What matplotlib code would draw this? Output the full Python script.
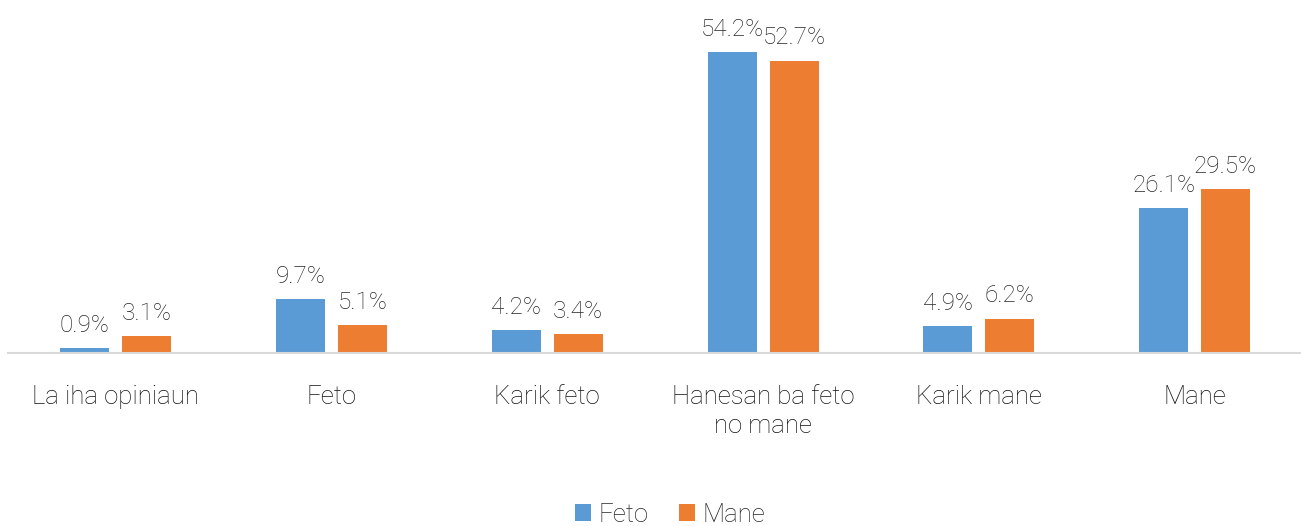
import numpy as np
import matplotlib.pyplot as plt

categories = ["La iha opiniaun", "Feto", "Karik feto", "Hanesan ba feto\nno mane",
              "Karik mane", "Mane"]
feto = [0.9, 9.7, 4.2, 54.2, 4.9, 26.1]
mane = [3.1, 5.1, 3.4, 52.7, 6.2, 29.5]

blue = "#5B9BD5"
orange = "#ED7D31"

plt.rcParams['font.family'] = ['Roboto', 'DejaVu Sans']
plt.rcParams['font.weight'] = 'light'

fig = plt.figure(figsize=(13.01, 5.26), dpi=100)
ax = fig.add_axes([7.6 / 1301, 173 / 526, 1295 / 1301, 333 / 526])

x = np.arange(len(categories))
w = 0.227
off = 0.1436
b1 = ax.bar(x - off, feto, w, color=blue, label="Feto")
b2 = ax.bar(x + off, mane, w, color=orange, label="Mane")

for bars, vals in ((b1, feto), (b2, mane)):
    for rect, v in zip(bars, vals):
        ax.text(rect.get_x() + rect.get_width() / 2, v + 2.0, f"{v:.1f}%",
                ha="center", va="bottom", fontsize=17.5, color="#262626")

ax.set_xlim(-0.5, len(categories) - 0.5)
ax.set_ylim(0, 60)
ax.set_yticks([])
ax.set_xticks(x)
ax.set_xticklabels(categories, fontsize=18.5, color="#111111", linespacing=1.25)
ax.tick_params(axis="x", length=0, pad=23)
for s in ("top", "right", "left"):
    ax.spines[s].set_visible(False)
ax.spines["bottom"].set_color("#D9D9D9")
ax.spines["bottom"].set_linewidth(1.5)
ax.spines["bottom"].set_bounds(-0.5, 5.5)

leg = fig.legend(loc="lower center", bbox_to_anchor=(0.515, -0.045), ncol=2, frameon=False,
                 fontsize=18.5, handlelength=0.62, handleheight=0.62, handletextpad=0.3,
                 columnspacing=1.2)
for t in leg.get_texts():
    t.set_color("#262626")

fig.savefig("out.png", dpi=100)
